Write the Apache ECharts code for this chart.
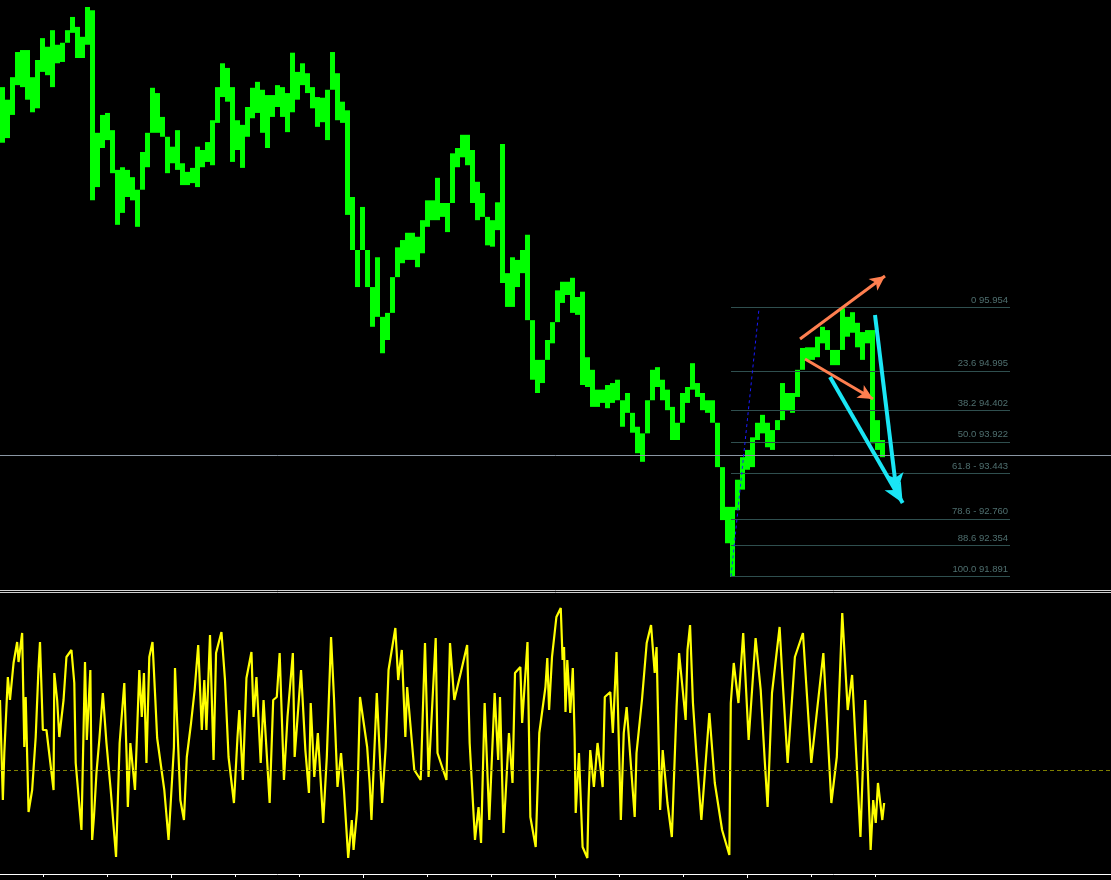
<!DOCTYPE html>
<html><head><meta charset="utf-8">
<script src="https://cdn.jsdelivr.net/npm/echarts@6/dist/echarts.min.js"></script>
<style>html,body{margin:0;padding:0;background:#000;}#c{width:1111px;height:880px;}</style>
</head><body><div id="c"></div>
<script>
// ---- price bars (high / low per bar, bar index = array position) ----
const priceHigh = [99.28,99.09,99.43,99.81,99.84,99.84,99.43,99.69,100.02,99.89,100.14,99.92,99.95,100.14,100.34,100.19,100.04,100.49,100.44,98.59,
98.86,98.89,98.63,98.03,98.07,98.03,97.92,97.73,98.30,98.59,99.27,99.19,98.83,98.53,98.38,98.63,98.13,98.00,98.06,98.38,
98.33,98.45,98.78,99.28,99.64,99.57,99.28,98.78,98.71,98.98,99.27,99.36,99.24,99.16,99.16,99.31,99.28,99.19,99.80,99.51,
99.64,99.49,99.28,99.13,99.12,99.24,99.81,99.49,99.06,98.93,97.62,96.82,97.47,96.82,96.11,96.71,95.81,95.87,96.41,96.86,
96.97,97.08,97.08,97.02,97.27,97.57,97.57,97.91,97.53,97.53,98.28,98.36,98.56,98.56,98.33,97.85,97.68,97.32,97.27,97.54,
98.42,96.47,96.71,96.67,96.82,97.05,95.76,95.16,95.16,95.46,95.73,96.21,96.34,96.34,96.40,96.11,96.19,95.20,95.01,94.71,
94.71,94.78,94.81,94.86,94.55,94.66,94.36,94.15,94.05,94.55,95.01,95.05,94.86,94.71,94.45,94.21,94.66,94.75,95.11,94.81,
94.66,94.55,94.55,94.05,93.35,92.94,92.94,93.35,93.69,93.80,93.99,94.21,94.33,94.21,94.10,94.25,94.81,94.66,94.66,95.01,
95.34,95.35,95.35,95.51,95.66,95.61,95.31,95.31,95.94,95.81,95.88,95.72,95.58,95.61,95.61,94.25,93.95];
const priceLow = [98.44,98.51,98.86,99.31,99.28,99.09,98.90,98.96,99.51,99.46,99.28,99.64,99.66,99.95,100.10,99.72,99.72,99.92,97.57,97.77,
98.36,98.48,97.98,97.20,97.38,97.62,97.57,97.17,97.98,98.07,98.63,98.59,98.53,97.98,98.13,98.03,97.80,97.80,97.83,97.77,
98.07,98.15,98.10,98.74,99.13,99.06,98.15,98.33,98.06,98.53,98.81,98.89,98.59,98.36,98.83,98.98,98.83,98.60,98.90,99.09,
99.31,99.19,98.96,98.68,98.75,98.48,99.34,98.78,98.74,97.35,96.82,96.26,96.82,96.26,95.66,95.81,95.26,95.46,95.91,96.41,
96.62,96.67,96.67,96.56,96.77,97.17,97.27,97.27,97.32,97.09,97.77,98.07,98.22,98.10,97.53,97.27,97.32,96.89,96.87,97.12,
96.32,95.96,95.96,96.26,96.47,95.76,94.86,94.66,94.81,95.16,95.41,95.81,96.02,96.14,95.87,95.84,94.78,94.75,94.45,94.45,
94.51,94.43,94.51,94.55,94.15,94.36,94.06,93.75,93.62,94.06,94.55,94.75,94.55,94.40,93.95,93.95,94.45,94.51,94.71,94.60,
94.40,94.36,94.21,93.54,92.74,92.39,91.88,92.89,93.20,93.50,93.54,93.95,94.05,93.84,93.80,94.10,94.45,94.40,94.36,94.60,
95.05,95.16,95.16,95.20,95.41,95.31,95.08,95.08,95.41,95.51,95.57,95.35,95.16,95.41,93.90,93.80,93.69];

// ---- momentum oscillator: [bar index, value] at read turning points ----
const oscPoints = [[-0.5,100.70],[0.07,99.70],[0.36,100.17],[1.07,100.93],[1.5,100.70],[2.21,101.07],[2.93,101.28],[3.21,101.08],[3.93,101.37],[4.36,100.23],[4.64,100.73],[5.21,99.58],[5.93,99.80],[6.64,100.33],[7.21,101.03],[7.5,101.28],[8.07,100.40],[8.79,100.40],[10.21,99.80],[10.36,100.97],[10.93,100.70],[11.36,100.33],[12.21,100.70],[12.79,101.13],[13.79,101.20],[14.36,100.87],[14.64,100.07],[15.79,99.40],[16.5,101.08],[16.86,100.30],[17.57,101.00],[17.93,99.30],[18.29,99.53],[18.79,99.97],[19.36,100.30],[20.07,100.77],[20.79,100.27],[21.64,99.80],[22.71,99.13],[23.43,100.27],[24.36,100.87],[24.86,100.07],[25.07,99.63],[25.57,100.27],[26.5,99.80],[27.36,101.00],[27.86,100.53],[28.29,100.97],[28.79,100.07],[29.36,101.13],[30.0,101.28],[30.57,100.70],[30.93,100.32],[32.36,99.80],[33.21,99.30],[34.29,100.23],[34.5,101.02],[35.57,99.70],[36.29,99.50],[36.86,100.13],[37.71,100.47],[38.43,100.80],[39.14,101.25],[39.86,100.40],[40.36,100.90],[40.79,100.40],[41.5,101.35],[42.21,100.10],[42.71,101.17],[43.79,101.38],[44.5,100.90],[45.21,100.13],[46.29,99.67],[47.0,100.33],[47.36,100.60],[48.07,99.90],[48.79,100.92],[49.79,101.18],[50.21,100.53],[50.79,100.93],[51.64,100.07],[52.21,100.70],[53.43,99.67],[54.14,100.70],[54.86,100.73],[55.43,101.17],[56.29,99.90],[57.0,100.53],[58.07,101.17],[58.43,100.13],[59.71,101.00],[60.57,100.20],[61.29,99.77],[61.64,100.67],[62.36,99.93],[63.07,100.37],[64.14,99.47],[64.86,100.13],[65.71,101.33],[66.29,100.73],[67.0,99.83],[67.71,100.17],[68.29,99.80],[69.14,99.12],[69.86,99.50],[70.21,99.20],[70.93,99.60],[71.5,100.73],[72.93,100.23],[73.43,99.87],[73.79,99.50],[74.86,100.77],[75.93,99.67],[76.64,100.23],[77.21,101.00],[78.57,101.42],[79.14,100.90],[79.86,101.20],[80.57,100.33],[80.93,100.83],[82.36,100.00],[83.64,99.90],[84.5,101.27],[85.21,99.93],[86.64,101.32],[87.0,100.17],[88.79,99.90],[89.5,101.27],[90.36,100.70],[91.64,100.97],[92.93,101.25],[93.43,100.27],[94.5,99.30],[95.21,99.63],[95.71,99.27],[96.43,100.67],[97.36,99.50],[98.43,100.77],[99.14,100.10],[99.5,100.73],[100.21,99.37],[101.29,100.37],[102.0,99.87],[102.5,100.97],[103.57,101.03],[103.93,100.47],[105.0,101.28],[105.57,99.53],[106.64,99.23],[107.36,100.37],
[108.59,100.83],[108.96,101.12],[109.32,100.60],[109.9,101.13],[110.78,101.53],[111.65,101.62],[112.02,101.10],[112.31,101.23],[112.6,100.58],[112.96,101.10],[113.55,100.57],[114.06,101.02],[114.42,100.33],[114.64,99.57],[115.29,100.17],[116.02,99.23],[116.97,99.12],[117.19,99.67],[117.55,100.20],[118.28,99.83],[119.01,100.27],[120.03,99.83],[120.46,100.73],[121.56,100.78],[122.07,100.37],[122.8,101.18],[123.67,99.50],[124.25,100.37],[124.83,100.63],[126.44,99.53],[126.8,100.17],[127.89,100.70],[128.84,101.27],[129.71,101.45],[130.44,100.97],[130.81,101.23],[131.53,99.60],[132.04,100.20],[132.99,99.67],[133.87,99.33],[134.81,100.63],[135.32,101.17],[136.63,100.50],[137.0,101.20],[137.51,101.45],[138.09,100.67],[138.82,100.13],[139.77,99.50],[141.37,100.57],[142.46,99.87],[143.92,99.40],[145.37,99.15],[145.66,100.67],[146.25,101.07],[147.19,100.67],[148.14,101.37],[149.23,100.30],[150.62,101.32],[151.64,100.80],[152.44,100.10],[153.02,99.63],[153.9,100.77],[155.42,101.43],[155.93,100.97],[157.03,100.07],[158.48,101.13],[160.09,101.37],[161.76,100.07],[164.17,101.17],[165.77,99.67],[166.86,100.13],[167.95,101.57],[169.04,100.60],[169.92,100.95],[171.59,99.33],[172.54,100.70],[173.63,99.20],[174.14,99.70],[174.65,99.47],[175.09,99.87],[175.96,99.50],[176.33,99.67]];
const momentumLevel = 100;

// ---- Fibonacci retracement ----
const fibLevels = ['0', '23.6', '38.2', '50.0', '61.8 -', '78.6 -', '88.6', '100.0'];
const fibPrices = [95.954, 94.995, 94.402, 93.922, 93.443, 92.760, 92.354, 91.891];
const fibBars = [145.7, 201.5];

// ---- other drawn objects (bar index, price) ----
const bidPrice = 93.723;
const trendLine = [[145.7, 91.891], [151.3, 95.93]];
const orangeArrows = [[[159.5, 95.475], [176.5, 96.427]], [[160.5, 95.173], [174.1, 94.569]]];
const cyanArrows = [[[174.5, 95.838], [178.84, 93.149]], [[165.5, 94.901], [180.04, 92.998]]];

// ---------------------------------------------------------------
const X_MIN = -0.5, X_MAX = 221.7;
const bars = priceHigh.map((h, i) => {
  let hi = h, lo = priceLow[i];
  if (i > 0) {
    if (priceLow[i - 1] > hi) hi = priceLow[i - 1];
    if (priceHigh[i - 1] < lo) lo = priceHigh[i - 1];
  }
  return [i, hi, lo];
});

const chart = echarts.init(document.getElementById('c'), null, {renderer: 'canvas'});
const hiddenY = (g, min, max) => ({gridIndex: g, type: 'value', min, max, show: false, splitLine: {show: false}});
const tickColor = '#ffffff';

const fibData = fibPrices.map((p, k) => [
  {coord: [fibBars[0], p], label: {formatter: fibLevels[k] + ' ' + p.toFixed(3)}},
  {coord: [fibBars[1], p]}
]);

chart.setOption({
  backgroundColor: '#000000',
  animation: false,
  grid: [
    {left: 0, top: 0, width: 1111, height: 589},
    {left: 0, top: 593, width: 1111, height: 281},
    {left: 43.5, top: 593, width: 832, height: 281},
    {left: 171.5, top: 593, width: 576, height: 281}
  ],
  xAxis: [
    {gridIndex: 0, type: 'value', min: X_MIN, max: X_MAX, show: false, splitLine: {show: false}},
    {gridIndex: 1, type: 'value', min: X_MIN, max: X_MAX, position: 'bottom',
     axisLine: {show: true, onZero: false, lineStyle: {color: '#ffffff', width: 1}},
     axisTick: {show: false}, axisLabel: {show: false}, splitLine: {show: false}},
    {gridIndex: 2, type: 'value', min: 0, max: 832, interval: 64, position: 'bottom',
     axisLine: {show: false, onZero: false}, axisTick: {show: true, length: 3, lineStyle: {color: tickColor}},
     axisLabel: {show: false}, splitLine: {show: false}},
    {gridIndex: 3, type: 'value', min: 0, max: 576, interval: 192, position: 'bottom',
     axisLine: {show: false, onZero: false}, axisTick: {show: true, length: 4, lineStyle: {color: tickColor}},
     axisLabel: {show: false}, splitLine: {show: false}}
  ],
  yAxis: [
    hiddenY(0, 91.699, 100.596),
    hiddenY(1, 98.96, 101.77),
    hiddenY(2, 0, 1),
    hiddenY(3, 0, 1)
  ],
  graphic: [
    {type: 'line', shape: {x1: 0, y1: 590.5, x2: 1111, y2: 590.5}, style: {stroke: '#d0d0d0', lineWidth: 1}, silent: true},
    {type: 'line', shape: {x1: 0, y1: 592.5, x2: 1111, y2: 592.5}, style: {stroke: '#d0d0d0', lineWidth: 1}, silent: true}
  ],
  series: [
    {
      type: 'line', xAxisIndex: 0, yAxisIndex: 0, data: [], silent: true,
      markLine: {
        silent: true, symbol: ['none', 'none'], animation: false,
        lineStyle: {color: '#2f4f4f', width: 1, type: 'solid'},
        label: {show: true, position: 'insideEndTop', color: '#4f6f6f', fontSize: 9.5,
                fontFamily: 'Liberation Sans', distance: 2},
        emphasis: {disabled: true},
        data: fibData
      }
    },
    {
      type: 'line', xAxisIndex: 0, yAxisIndex: 0, data: [], silent: true,
      markLine: {
        silent: true, symbol: ['none', 'none'], animation: false, label: {show: false},
        emphasis: {disabled: true},
        data: [
          {yAxis: bidPrice, lineStyle: {color: '#8a96a3', width: 1, type: 'solid'}},
          [{coord: trendLine[0], lineStyle: {color: '#1a1aff', width: 1, type: [3, 3]}}, {coord: trendLine[1]}]
        ]
      }
    },
    {
      type: 'custom', name: 'price', xAxisIndex: 0, yAxisIndex: 0, clip: true, silent: true,
      encode: {x: 0, y: [1, 2]},
      data: bars,
      renderItem: (params, api) => {
        const x = api.value(0);
        const p1 = api.coord([x, api.value(1)]);
        const p2 = api.coord([x, api.value(2)]);
        const w = api.size([1, 0])[0];
        return {type: 'rect', shape: {x: p1[0] - w / 2, y: p1[1], width: w, height: Math.max(1, p2[1] - p1[1])},
                style: {fill: '#00ff00'}};
      }
    },
    {
      type: 'line', xAxisIndex: 0, yAxisIndex: 0, data: [], silent: true,
      markLine: {
        silent: true, symbol: ['none', 'arrow'], symbolSize: [11, 15], animation: false, label: {show: false},
        emphasis: {disabled: true},
        lineStyle: {color: '#ff7f50', width: 3, type: 'solid'},
        data: orangeArrows.map(a => [{coord: a[0]}, {coord: a[1]}])
      }
    },
    {
      type: 'line', xAxisIndex: 0, yAxisIndex: 0, data: [], silent: true,
      markLine: {
        silent: true, symbol: ['none', 'arrow'], symbolSize: [14, 20], animation: false, label: {show: false},
        emphasis: {disabled: true},
        lineStyle: {color: '#1ae6f5', width: 4, type: 'solid'},
        data: cyanArrows.map(a => [{coord: a[0]}, {coord: a[1]}])
      }
    },
    {
      type: 'line', xAxisIndex: 1, yAxisIndex: 1, data: oscPoints, showSymbol: false, symbol: 'none',
      lineStyle: {color: '#ffff00', width: 2.2}, silent: true,
      markLine: {
        silent: true, symbol: ['none', 'none'], animation: false, label: {show: false},
        emphasis: {disabled: true},
        lineStyle: {color: '#808000', width: 1, type: [4, 3]},
        data: [{yAxis: momentumLevel}]
      }
    }
  ]
});
</script>
</body></html>
